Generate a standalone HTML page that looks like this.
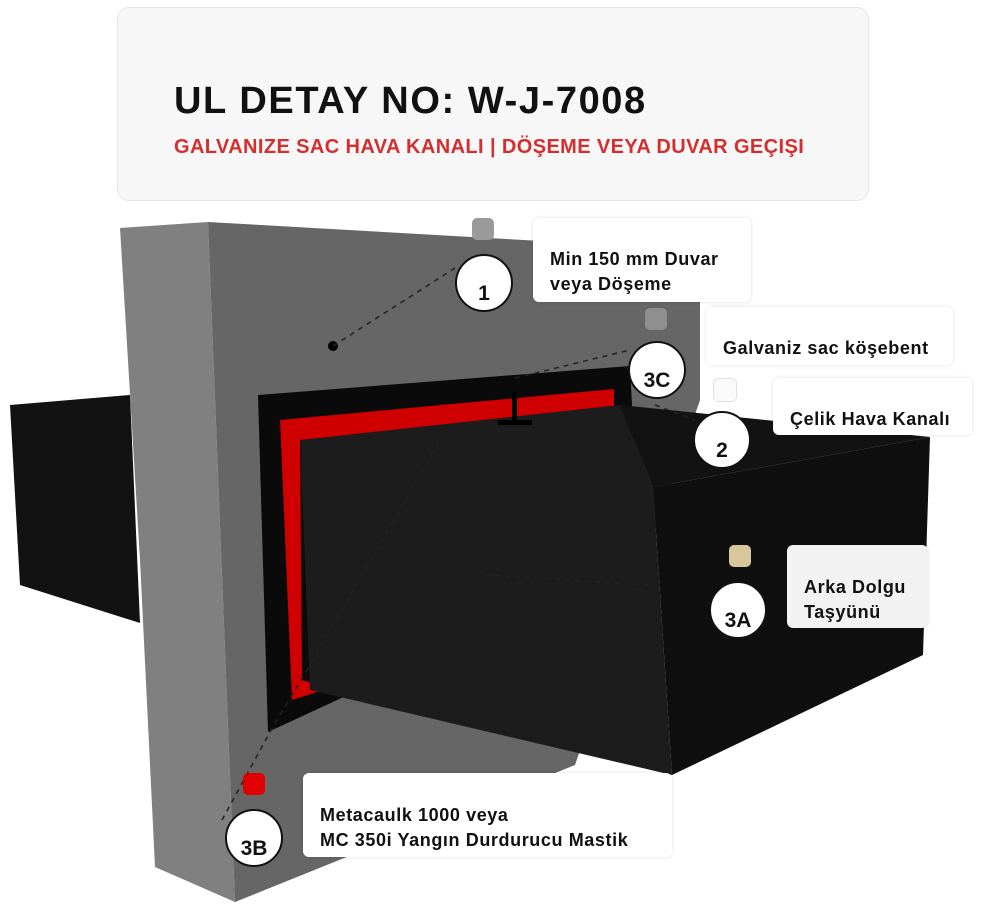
<!DOCTYPE html>
<html><head><meta charset="utf-8"><style>
html,body{margin:0;padding:0;background:#fff;}
body{width:984px;height:909px;position:relative;overflow:hidden;font-family:"Liberation Sans",sans-serif;}
.card{position:absolute;left:117px;top:7px;width:750px;height:192px;background:#f7f7f7;border:1px solid #e6e6e6;border-radius:12px;}
.t1{position:absolute;left:174px;top:80px;font-size:38px;font-weight:bold;color:#111;letter-spacing:1.6px;}
.t2{position:absolute;left:174px;top:136px;font-size:20px;font-weight:bold;color:#d32f2f;letter-spacing:0.4px;}
.lbl{position:absolute;background:#fff;border-radius:6px;box-shadow:0 0 4px rgba(0,0,0,0.12);font-weight:bold;font-size:18px;letter-spacing:0.6px;color:#111;line-height:25px;box-sizing:border-box;padding-left:17px;white-space:nowrap;}
.c{position:absolute;width:58px;height:58px;border-radius:50%;background:#fff;border:2px solid #111;box-sizing:border-box;font-weight:bold;font-size:21px;text-align:center;line-height:76px;color:#111;}
.sq{position:absolute;width:22px;height:22px;border-radius:5px;}
</style></head><body>
<div class="card"></div>
<div class="t1">UL DETAY NO: W-J-7008</div>
<div class="t2">GALVANIZE SAC HAVA KANALI | DÖŞEME VEYA DUVAR GEÇIŞI</div>
<svg width="984" height="909" style="position:absolute;left:0;top:0">
<polygon points="10,405 130,395 140,623 20,585" fill="#121212"/>
<polygon points="120,228 208,222 235,902 155,867 140,560" fill="#808080"/>
<polygon points="208,222 700,250 700,400 575,765 235,902" fill="#666"/>
<polygon points="258,395 630,366 640,560 268,732" fill="#0a0a0a"/>
<polygon points="280,420 614,389 614,410 300,440 302,680 330,688 292,700" fill="#d00000"/>
<polygon points="300,440 620,405 653,487 672,775 310,690" fill="#1c1c1c"/>
<polygon points="620,405 930,437 653,487" fill="#121212"/>
<polygon points="653,487 930,437 923,655 672,775" fill="#0f0f0f"/>
<rect x="512" y="392" width="5" height="30" fill="#000"/>
<rect x="498" y="420" width="34" height="5" fill="#000"/>
<circle cx="333" cy="346" r="5" fill="#000"/>
<g stroke="#222" stroke-width="1.5" stroke-dasharray="5,5" fill="none">
<line x1="333" y1="346" x2="455" y2="268"/>
<line x1="515" y1="378" x2="630" y2="350"/>
<line x1="655" y1="405" x2="695" y2="420"/>
<line x1="485" y1="575" x2="650" y2="585"/>
<polyline points="222,820 270,732 310,665 440,440"/>
</g>
</svg>
<div class="sq" style="left:472px;top:218px;background:#9a9a9a"></div>
<div class="c" style="left:455px;top:254px">1</div>
<div class="lbl" style="left:533px;top:218px;width:218px;height:84px;padding-top:29px">Min 150 mm Duvar<br>veya Döşeme</div>
<div class="sq" style="left:645px;top:308px;background:#8f8f8f"></div>
<div class="c" style="left:628px;top:341px">3C</div>
<div class="lbl" style="left:706px;top:307px;width:247px;height:58px;padding-top:29px">Galvaniz sac köşebent</div>
<div class="sq" style="left:713px;top:378px;background:#fafafa;border:1px solid #e0e0e0"></div>
<div class="c" style="left:693px;top:411px">2</div>
<div class="lbl" style="left:773px;top:378px;width:199px;height:57px;padding-top:29px">Çelik Hava Kanalı</div>
<div class="sq" style="left:729px;top:545px;background:#d8c79a"></div>
<div class="c" style="left:709px;top:581px">3A</div>
<div class="lbl" style="left:787px;top:545px;width:141px;height:83px;padding-top:30px;background:#f2f2f2">Arka Dolgu<br>Taşyünü</div>
<div class="sq" style="left:243px;top:773px;background:#e00000"></div>
<div class="c" style="left:225px;top:809px">3B</div>
<div class="lbl" style="left:303px;top:773px;width:369px;height:84px;padding-top:30px">Metacaulk 1000 veya<br>MC 350i Yangın Durdurucu Mastik</div>
</body></html>
